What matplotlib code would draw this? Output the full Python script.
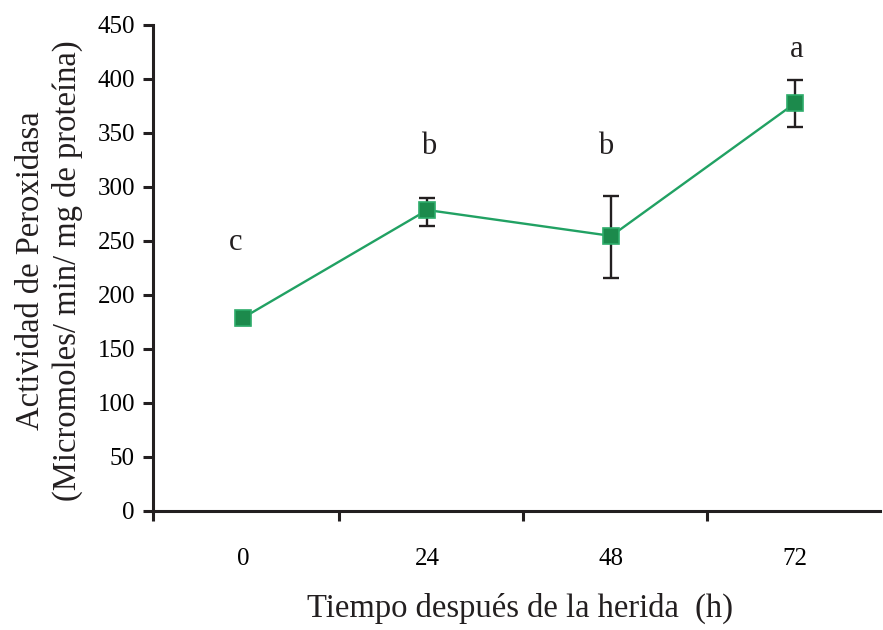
import matplotlib
matplotlib.use('Agg')
import matplotlib.pyplot as plt

# data
horas = ['0', '24', '48', '72']
actividad = [178.7, 278.4, 254.4, 377.5]
err_inf = [6.7, 14.8, 38.7, 22.5]
err_sup = [5.6, 11.1, 37.0, 21.0]
letras = ['c', 'b', 'b', 'a']
letras_y = [248, 337, 337, 427]
letras_dx = [-0.04, 0.01, -0.03, 0.01]

plt.rcParams['font.family'] = ['Liberation Serif', 'DejaVu Serif']

fig = plt.figure(figsize=(8.83, 6.3), dpi=100)
ax = fig.add_axes([0.1733, 0.1894, 0.8233, 0.7714])

x = list(range(len(horas)))
verde = '#21a163'

# error bars behind the markers
ax.errorbar(x, actividad, yerr=[err_inf, err_sup], fmt='none', ecolor='#231f20',
            elinewidth=1.7, capsize=6, capthick=1.7, zorder=2)
ax.plot(x, actividad, color=verde, linewidth=1.7, marker='s', markersize=12,
        markerfacecolor='#1c8a4c', markeredgecolor='#2eac6b', markeredgewidth=1.2,
        zorder=3)

for i, (l, ly, dx) in enumerate(zip(letras, letras_y, letras_dx)):
    ax.text(i + dx, ly, l, fontsize=22, ha='center', va='center', color='#231f20')

ax.set_ylim(0, 450)
ax.set_xlim(-0.49, 3.46)
ax.set_yticks(range(0, 451, 50))

# category labels without tick marks, tick marks between categories
ax.set_xticks(x)
ax.set_xticklabels(horas)
ax.set_xticks([-0.49, 0.52, 1.52, 2.52], minor=True)
ax.tick_params(axis='x', which='major', length=0, pad=27, labelsize=18)
ax.tick_params(axis='x', which='minor', length=7, width=2.2, color='#231f20')
ax.tick_params(axis='y', length=7, width=2.2, pad=6, labelsize=18, color='#231f20')

for s in ['top', 'right']:
    ax.spines[s].set_visible(False)
for s in ['left', 'bottom']:
    ax.spines[s].set_linewidth(2.2)
    ax.spines[s].set_color('#231f20')

fig.text(0.589, 0.035, 'Tiempo después de la herida  (h)', fontsize=23.5,
         ha='center', va='center', color='#231f20')
fig.text(0.035, 0.571, 'Actividad de Peroxidasa', fontsize=23.5, rotation=90,
         ha='center', va='center', color='#231f20')
fig.text(0.076, 0.571, '(Micromoles/ min/ mg de proteína)', fontsize=23.5, rotation=90,
         ha='center', va='center', color='#231f20')

fig.savefig('out.png', dpi=100)
